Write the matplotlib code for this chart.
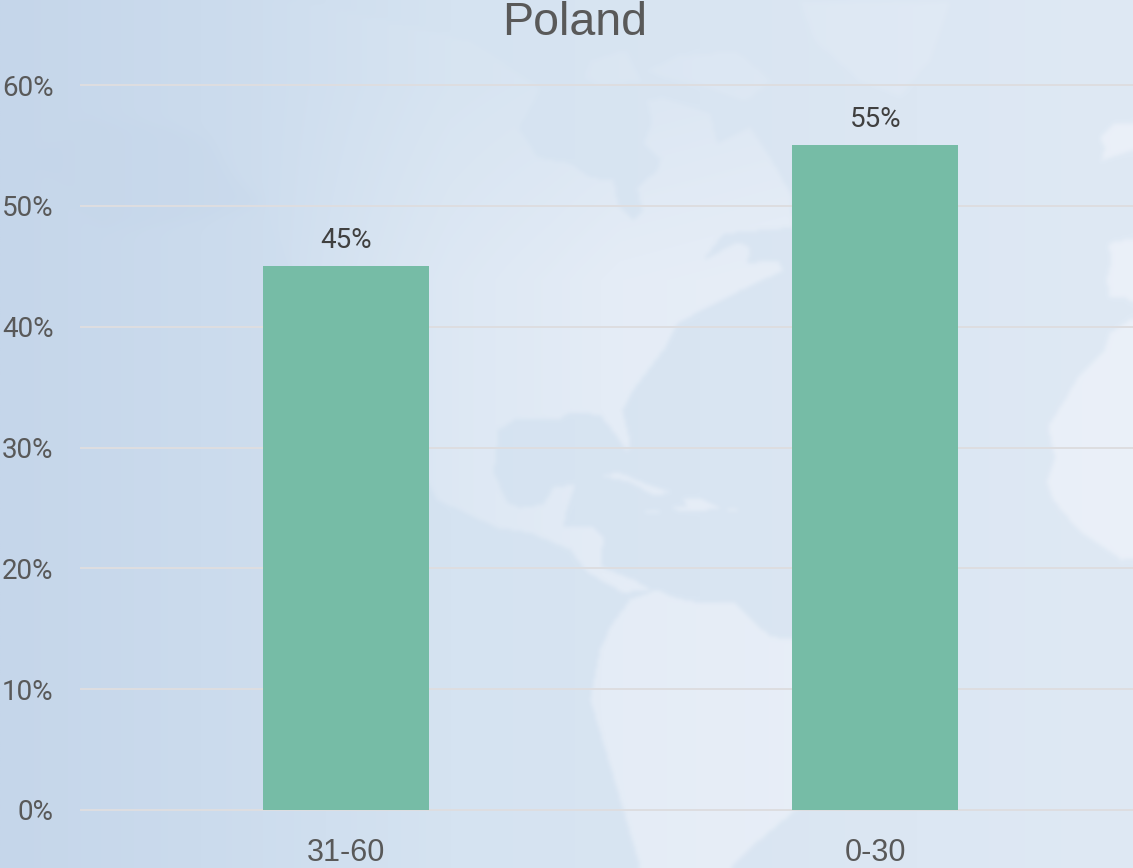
import numpy as np
import matplotlib
matplotlib.use("Agg")
import matplotlib.pyplot as plt
from matplotlib.path import Path

categories = ["31-60", "0-30"]
values = [45, 55]
ticks = [0, 10, 20, 30, 40, 50, 60]
title = "Poland"

W, H = 1133, 868
narrow = 'Roboto'
regular = 'Liberation Sans'
plt.rcParams['font.family'] = [regular, 'DejaVu Sans']
fig = plt.figure(figsize=(W/100, H/100), dpi=100)

# decorative page background: gradient with soft, faint map shapes
S = 2
h, w = H//S + 1, W//S + 1
yy, xx = np.mgrid[0:h, 0:w]
px, py = xx*S, yy*S
pts = np.column_stack([px.ravel(), py.ravel()])

def mask(poly, sigma=1.0):
    m = Path(poly).contains_points(pts).reshape(h, w).astype(float)
    r = int(3*sigma)
    k = np.exp(-0.5*(np.arange(-r, r+1)/sigma)**2); k /= k.sum()
    m = np.pad(m, r, mode='edge')
    m = np.apply_along_axis(lambda a: np.convolve(a, k, mode='same'), 0, m)
    m = np.apply_along_axis(lambda a: np.convolve(a, k, mode='same'), 1, m)
    return m[r:-r, r:-r]

nodes_x = [0, 200, 450, 700, 1133]
nodes_c = np.array([[0xC5,0xD6,0xEA],[0xCB,0xDB,0xED],[0xD5,0xE3,0xF1],[0xD9,0xE5,0xF2],[0xDF,0xE9,0xF4]])/255
img = np.dstack([np.interp(px, nodes_x, nodes_c[:, i]) for i in range(3)])

north_america = [(263,203),(300,290),(350,360),(400,430),(437,500),(497,528),(530,533),(570,550),(587,573),
    (623,593),(650,590),(633,580),(600,567),(603,537),(593,528),(563,527),(567,507),(575,485),(553,487),
    (543,505),(520,508),(507,503),(493,473),(498,430),(517,418),(557,420),(570,412),(600,415),(617,437),
    (627,452),(630,443),(622,410),(633,390),(663,350),(677,323),(707,307),(740,290),(783,270),(777,260),
    (747,263),(750,247),(737,242),(703,260),(723,233),(793,227),(790,193),(770,157),(750,127),(717,143),
    (710,113),(663,97),(647,100),(652,123),(643,143),(660,158),(657,170),(637,187),(642,210),(633,220),
    (617,203),(613,180),(590,177),(570,163),(537,157),(518,127),(540,88),(470,40),(300,0),(150,0)]
south_america = [(610,627),(630,600),(657,590),(670,597),(697,603),(733,603),(750,620),(770,637),(793,640),
    (860,690),(870,720),(820,790),(760,840),(730,868),(640,868),(620,800),(590,700),(600,650)]
africa = [(1140,313),(1110,333),(1103,353),(1078,377),(1065,400),(1048,427),(1055,457),(1047,482),(1053,500),
    (1078,530),(1122,560),(1140,557)]
iberia = [(1108,243),(1140,237),(1140,307),(1125,297),(1110,297),(1107,280),(1112,257)]
ireland = [(1100,137),(1115,123),(1140,123),(1140,147),(1102,160),(1105,147)]
cuba = [(597,478),(617,472),(643,483),(672,493),(652,495),(630,482),(607,477)]
hispaniola = [(673,508),(687,507),(683,498),(700,498),(718,508),(697,512),(677,510)]
jamaica = [(643,510),(658,512),(647,513)]
puerto_rico = [(728,510),(738,509),(733,512)]
greenland = [(800,0),(950,0),(930,60),(900,95),(860,80),(815,40)]
baffin = [(647,70),(680,55),(735,50),(770,80),(745,100),(700,85),(660,75)]
arctic = [(583,77),(590,60),(625,50),(640,80),(600,85)]
alaska = [(33,157),(87,117),(173,127),(207,137),(233,177),(263,203),(200,220),(100,230)]

ramp = np.clip((px-260)/360.0, 0, 1)[..., None]
north_fade = np.clip((py-20)/260.0, 0.25, 1)[..., None]
land = np.dstack([np.interp(px, [550, 1133], [a, b]) for a, b in
                  [(0xE4/255, 0xEC/255), (0xEC/255, 0xF1/255), (0xF6/255, 0xF9/255)]])
for poly in [north_america, south_america, cuba, hispaniola, jamaica, puerto_rico,
             greenland, baffin, arctic]:
    m = mask(poly)[..., None]*ramp*north_fade
    img = img*(1-m) + land*m
for poly in [africa, iberia, ireland]:
    m = mask(poly)[..., None]*0.9
    img = img*(1-m) + land*m
m = mask(alaska, 3)[..., None]*0.3
img = img*(1-m) + np.array([0xC4,0xD5,0xE9])/255*m

bg = fig.add_axes([0, 0, 1, 1], zorder=0)
bg.axis('off')
bg.imshow(img, extent=(0, W, H, 0), aspect='auto', interpolation='bilinear')

ax = fig.add_axes([81.25/W, 1-810/H, (1140-81.25)/W, (810-85)/H], zorder=1)
ax.patch.set_visible(False)
ax.set_xlim(-0.5, 1.5)
ax.set_ylim(0, 60)
x = np.arange(len(categories))
bars = ax.bar(x, values, width=0.313, color='#76BCA6', zorder=3)
for b, v in zip(bars, values):
    ax.annotate(f"{v}%", (b.get_x()+b.get_width()/2, v), xytext=(0, 18), textcoords='offset pixels',
                ha='center', va='baseline', fontsize=20, color='#404040', family=narrow)
ax.set_yticks(ticks)
ax.set_yticklabels([f"{t}%" for t in ticks], fontsize=20, color='#595959', family=narrow)
ax.set_xticks(x)
ax.set_xticklabels(categories, fontsize=22, color='#595959')
ax.grid(axis='y', color='#DDDDE0', lw=1.44, zorder=1)
for l in ax.get_ygridlines():
    l.set_clip_on(False)
ax.set_axisbelow(True)
ax.tick_params(length=0)
ax.tick_params(axis='y', pad=20)
ax.tick_params(axis='x', pad=20)
for s in ax.spines.values():
    s.set_visible(False)
fig.text(575/W, 1-23/H, title, fontsize=33.5, color='#595959', ha='center', va='center')
fig.savefig("out.png", dpi=100)
